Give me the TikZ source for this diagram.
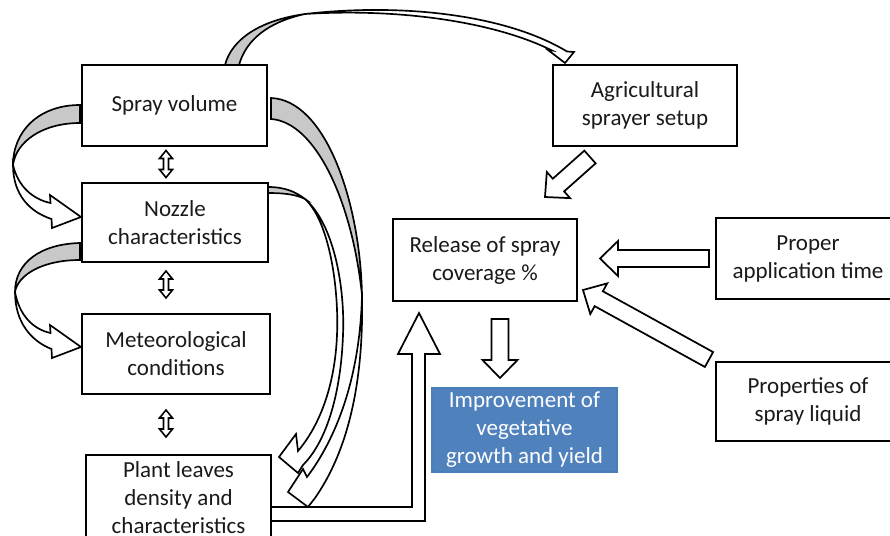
\documentclass[tikz,border=0pt]{standalone}
\usepackage{fontspec}
\setmainfont{Carlito}
\usetikzlibrary{calc}
\definecolor{impblue}{HTML}{4F81BD}
\definecolor{impedge}{HTML}{4A7EBB}
\definecolor{arcgrey}{HTML}{C8C8C8}
\definecolor{txt}{HTML}{1A1A1A}
% straight block arrow from tail #1 to tip #2
\newcommand{\mkblockarrow}[2]{%
  \coordinate (bkn) at ($(#2)!13.5pt!(#1)$);
  \draw[barrow] ($(#1)!6.375pt!90:(#2)$) -- ($(bkn)!6.375pt!90:(#2)$)
     -- ($(bkn)!13.125pt!90:(#2)$) -- (#2) -- ($(bkn)!13.125pt!-90:(#2)$)
     -- ($(bkn)!6.375pt!-90:(#2)$) -- ($(#1)!6.375pt!-90:(#2)$) -- cycle;}
\tikzset{
  box/.style={draw=black, line width=1.3pt, fill=white, align=center, inner sep=0pt,
              font=\fontsize{17.25}{21}\selectfont, text=txt},
  barrow/.style={draw=black, line width=1.3pt, fill=white, line join=miter},
  carrow/.style={draw=black, line width=1.25pt, fill=white, line join=miter},
  cgrey/.style={draw=black, line width=1.25pt, fill=arcgrey, line join=miter},
  dblarrow/.pic={\draw[line width=1.2pt, fill=white] (0,-13.5) -- (6.5,-5.5) -- (2.5,-5.5)
     -- (2.5,5.5) -- (6.5,5.5) -- (0,13.5) -- (-6.5,5.5) -- (-2.5,5.5) -- (-2.5,-5.5)
     -- (-6.5,-5.5) -- cycle;}
}
\begin{document}
\begin{tikzpicture}[x=0.75pt, y=-0.75pt]
\clip (0,0) rectangle (890,536);
\fill[white] (0,0) rectangle (890,536);

% ---- curved arrows ----
% top: spray volume -> agricultural sprayer setup
\draw[cgrey] (225,65) .. controls (232,38) and (262,20) .. (305,14)
   .. controls (268,22) and (246,40) .. (239,65) -- cycle;
\draw[carrow] (305,14) .. controls (400,3) and (505,14) .. (567,51.5) -- (574,52) -- (565,63)
   -- (548,50) -- (552,50.5) .. controls (495,22) and (400,8) .. (305,14) -- cycle;
% left: spray volume -> nozzle
\draw[cgrey] (80,105) .. controls (38,105) and (13,132) .. (13,165)
   .. controls (16,142) and (42,123) .. (80,123) -- cycle;
\draw[carrow] (13,165) .. controls (13,195) and (30,212) .. (51.5,219) -- (52,228) -- (81,217)
   -- (50,195) -- (50.5,203) .. controls (32,199) and (18,186) .. (13,165) -- cycle;
% left: nozzle -> meteorological
\draw[cgrey] (80,243) .. controls (40,244) and (15,263) .. (15,292)
   .. controls (18,275) and (42,260) .. (80,260) -- cycle;
\draw[carrow] (15,292) .. controls (15,322) and (31,341) .. (51.5,349) -- (52,358) -- (81,347)
   -- (50,325) -- (50.5,333) .. controls (32,329) and (19,314) .. (15,292) -- cycle;
% right: spray volume -> plant leaves
\draw[cgrey] (271,98) .. controls (325,100) and (360,200) .. (362,295)
   .. controls (352,200) and (315,122) .. (271,119) -- cycle;
\draw[carrow] (362,295) .. controls (364,390) and (345,455) .. (315,498) -- (308,507) -- (288,492)
   -- (303,469) -- (307,477) .. controls (335,440) and (360,380) .. (362,295) -- cycle;
% right: nozzle -> plant leaves
\draw[cgrey] (268,187) .. controls (285,187) and (296,192) .. (305,199)
   .. controls (295,194) and (282,193) .. (268,193) -- cycle;
\draw[carrow] (305,199) .. controls (335,225) and (345,290) .. (343,335)
   .. controls (341,390) and (328,440) .. (303,465) -- (298,473) -- (279,457) -- (296,434)
   -- (298,451) .. controls (320,425) and (335,385) .. (337,335)
   .. controls (339,290) and (330,222) .. (305,199) -- cycle;

% ---- straight block arrows ----
\coordinate (agT) at (590,157);   \coordinate (agH) at (545,197);
\coordinate (patT) at (709,258.5); \coordinate (patH) at (600,258.5);
\coordinate (pslT) at (709,359.5); \coordinate (pslH) at (583,290);
\coordinate (relT) at (500,319);  \coordinate (relH) at (500,378);
\mkblockarrow{agT}{agH}
\mkblockarrow{patT}{patH}
\mkblockarrow{pslT}{pslH}
\mkblockarrow{relT}{relH}
% L-shaped arrow: plant leaves -> release
\draw[barrow] (271,507) -- (412,507) -- (412,354) -- (398,354) -- (419,313) -- (440,354)
   -- (425,354) -- (425,521) -- (271,521);

% ---- boxes ----
\node[box, minimum width=138.75pt, minimum height=60.75pt] (sv) at (174.5,105.5) {Spray volume};
\node[box, minimum width=139.5pt, minimum height=59.25pt] (nz) at (175,222.5) {Nozzle\\characteristics};
\node[box, minimum width=141pt, minimum height=60pt] (met) at (176,354) {Meteorological\\conditions};
\node[box, minimum width=138.75pt, minimum height=63.75pt] (pl) at (178.5,497.5) {Plant leaves\\density and\\characteristics};
\node[box, minimum width=138pt, minimum height=60.75pt] (ag) at (645,105.5) {Agricultural\\sprayer setup};
\node[box, minimum width=138pt, minimum height=61.5pt] (rel) at (485,260) {Release of spray\\coverage \%};
\node[box, minimum width=138pt, minimum height=60.75pt] (pat) at (808,258.5) {Proper\\application time};
\node[box, minimum width=138pt, minimum height=59.25pt] (psl) at (808,401.5) {Properties of\\spray liquid};
\node[box, draw=impedge, line width=0.8pt, fill=impblue, text=white, minimum width=138.75pt, minimum height=63pt] (imp) at (524.5,430) {Improvement of\\vegetative\\growth and yield};

% ---- double arrows ----
\pic at (166,164) {dblarrow};
\pic at (166,284.5) {dblarrow};
\pic at (166,423.5) {dblarrow};
\end{tikzpicture}
\end{document}
